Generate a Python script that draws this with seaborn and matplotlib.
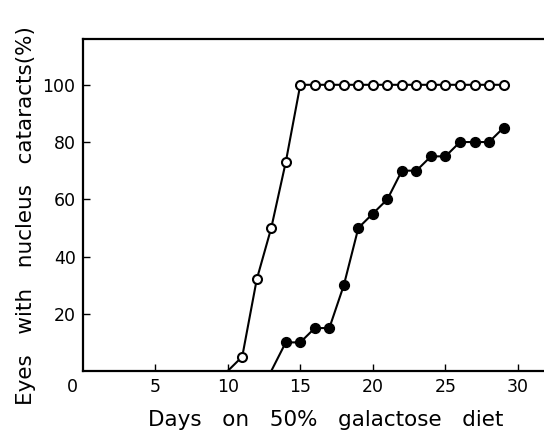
import matplotlib
matplotlib.use("Agg")
import matplotlib.pyplot as plt
import seaborn as sns
import pandas as pd

# days on diet and percent of eyes with nucleus cataracts
open_days = [10, 11, 12, 13, 14, 15, 16, 17, 18, 19, 20, 21, 22, 23, 24, 25, 26, 27, 28, 29]
open_pct = [0, 5, 32, 50, 73, 100, 100, 100, 100, 100, 100, 100, 100, 100, 100, 100, 100, 100, 100, 100]

filled_days = [13, 14, 15, 16, 17, 18, 19, 20, 21, 22, 23, 24, 25, 26, 27, 28, 29]
filled_pct = [0, 10, 10, 15, 15, 30, 50, 55, 60, 70, 70, 75, 75, 80, 80, 80, 85]

x_ticks = [5, 10, 15, 20, 25, 30]
y_ticks = [20, 40, 60, 80, 100]

sns.set_style("ticks")
plt.rcParams['font.family'] = ['DejaVu Sans']
plt.rcParams['text.color'] = 'black'
plt.rcParams['xtick.color'] = 'black'
plt.rcParams['ytick.color'] = 'black'
plt.rcParams['axes.labelcolor'] = 'black'

df_open = pd.DataFrame({"day": open_days, "pct": open_pct})
df_filled = pd.DataFrame({"day": filled_days, "pct": filled_pct})

fig = plt.figure(figsize=(5.44, 4.32), dpi=100)
ax = fig.add_axes([0.1517, 0.1412, 0.85, 0.7685])

# lines start on the axis at 0, markers only on measured points
sns.lineplot(data=df_open, x="day", y="pct", color="black", linewidth=1.5, ax=ax)
sns.lineplot(data=df_filled, x="day", y="pct", color="black", linewidth=1.5, ax=ax)
sns.scatterplot(data=df_open.iloc[1:], x="day", y="pct", marker="o", s=42,
                facecolor="white", edgecolor="black", linewidth=1.5, zorder=3, ax=ax)
sns.scatterplot(data=df_filled.iloc[1:], x="day", y="pct", marker="o", s=50,
                color="black", edgecolor="black", linewidth=1, zorder=3, ax=ax)

ax.set_xlim(0, 31.85)
ax.set_ylim(0, 116)
ax.set_xticks(x_ticks)
ax.set_yticks(y_ticks)
ax.tick_params(direction="in", length=5, width=1, labelsize=12.5, pad=5,
               colors="black")

for s in ["left", "top", "bottom"]:
    ax.spines[s].set_linewidth(1.6)
    ax.spines[s].set_color("black")
ax.spines["right"].set_visible(False)

ax.text(-0.3, -2.6, "0", ha="right", va="top", fontsize=12.5, color="black")

ax.set_xlabel("Days   on   50%   galactose   diet", fontsize=15.5)
ax.set_ylabel("Eyes   with   nucleus   cataracts(%)", fontsize=15.5)
ax.xaxis.set_label_coords(0.525, -0.118)
ax.yaxis.set_label_coords(-0.1, 0.467)

fig.savefig("out.png", dpi=100)
